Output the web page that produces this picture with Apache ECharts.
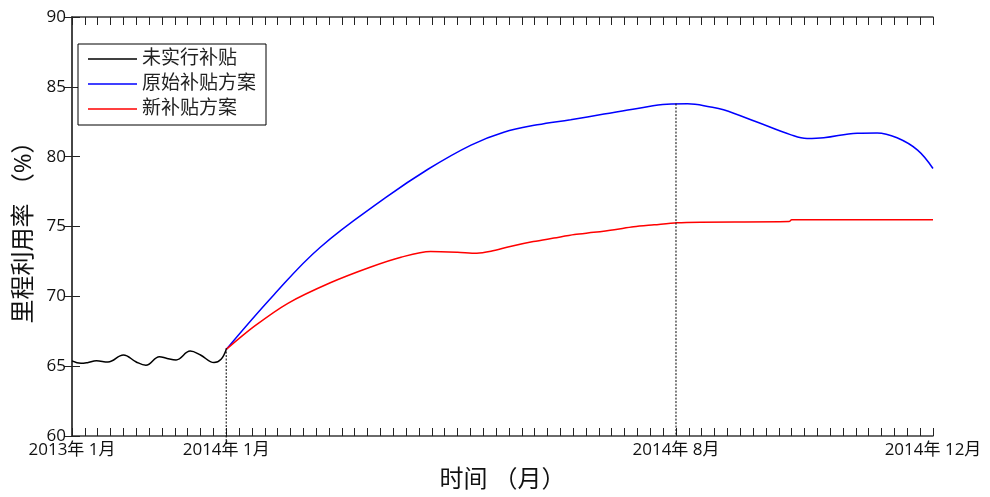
<!DOCTYPE html>
<html><head><meta charset="utf-8">
<script src="https://cdn.jsdelivr.net/npm/echarts@6/dist/echarts.min.js"></script>
<style>html,body{margin:0;padding:0;background:#fff}#c{width:990px;height:497px}</style>
</head><body><div id="c"></div>
<script>
// x axis is in tick units (0 = 2013年1月, 12 = 2014年1月, 47 = 2014年8月, 67 = 2014年12月)
const tickPos = [0, 12, 47, 67];
const tickLabels = ['2013年 1月', '2014年 1月', '2014年 8月', '2014年 12月'];
const xMax = 67;

const blackX = [0, 0.7, 1.2, 1.9, 2.8, 4.0, 5.0, 5.75, 6.8, 7.4, 8.1, 9.2, 10.0, 11.05, 11.6, 12];
const blackY = [65.38, 65.2, 65.25, 65.38, 65.3, 65.8, 65.3, 65.07, 65.68, 65.55, 65.45, 66.08, 65.8, 65.26, 65.5, 66.2];

const blueX = [12, 15.7, 19.3, 24.4, 27.7, 31.05, 33.6, 36.2, 38.8, 41.4, 44.0, 46.3, 47.9, 49.7, 50.7, 53.3, 55.9, 57.2, 58.5, 61.1, 62.65, 64.2, 65.8, 67];
const blueY = [66.2, 70.1, 73.5, 77.06, 79.1, 80.83, 81.75, 82.28, 82.65, 83.05, 83.45, 83.76, 83.78, 83.56, 83.36, 82.48, 81.58, 81.3, 81.35, 81.68, 81.7, 81.35, 80.47, 79.15];

const redX = [12, 14.2, 16.8, 20.1, 23.25, 25.6, 27.9, 30.0, 31.5, 32.6, 34.1, 35.9, 37.5, 39.1, 40.6, 42.2, 43.7, 45.3, 47.1, 48.9, 55.8, 56.0, 67];
const redY = [66.2, 67.86, 69.5, 70.97, 72.1, 72.8, 73.21, 73.16, 73.09, 73.23, 73.57, 73.92, 74.17, 74.42, 74.58, 74.77, 74.98, 75.12, 75.27, 75.31, 75.35, 75.48, 75.48];

const names = ['未实行补贴', '原始补贴方案', '新补贴方案'];
const dropX = [12, 47];
const dropTop = [66.3, 83.8];
const dropBottom = [59.4, 60];

const zip = (a, b) => a.map((v, i) => [v, b[i]]);
const allTicks = [];
for (let i = 0; i <= xMax; i++) allTicks.push(i);
const font = "'Open Sans','Noto Sans CJK SC',sans-serif";
const axisLine = {show: true, lineStyle: {color: '#3a3a3a', width: 1.5}};
const tick = {show: true, inside: true, length: 8, lineStyle: {color: '#222', width: 1}};
const xTick = Object.assign({customValues: allTicks}, tick);

const chart = echarts.init(document.getElementById('c'));
const series = [
  {name: names[0], type: 'line', data: zip(blackX, blackY), smooth: 0.4, showSymbol: false, symbol: 'none', lineStyle: {color: '#000', width: 1.5}, itemStyle: {color: '#000'}},
  {name: names[1], type: 'line', data: zip(blueX, blueY), smooth: 0.4, showSymbol: false, symbol: 'none', lineStyle: {color: '#0000ff', width: 1.5}, itemStyle: {color: '#0000ff'}},
  {name: names[2], type: 'line', data: zip(redX, redY), smooth: 0.3, showSymbol: false, symbol: 'none', lineStyle: {color: '#ff0000', width: 1.5}, itemStyle: {color: '#ff0000'}}
];
dropX.forEach((x, i) => {
  series.push({type: 'line', data: [[x, dropTop[i]], [x, dropBottom[i]]], clip: false, showSymbol: false, symbol: 'none', silent: true,
    lineStyle: {color: '#000', width: 1, type: [2, 1.5]}});
});

chart.setOption({
  animation: false,
  backgroundColor: '#fff',
  grid: {left: 72, right: 57, top: 17, bottom: 56, containLabel: false},
  legend: {
    data: names, orient: 'vertical', left: 78, top: 44, icon: 'rect',
    borderColor: '#000', borderWidth: 1, backgroundColor: '#fff',
    padding: [5, 10, 6, 10], itemWidth: 49, itemHeight: 1.5, itemGap: 5,
    textStyle: {fontFamily: font, fontSize: 19, color: '#222', lineHeight: 20}
  },
  xAxis: [
    {type: 'value', min: 0, max: xMax, position: 'bottom',
     axisLine: axisLine, axisTick: xTick, splitLine: {show: false},
     axisLabel: {show: true, customValues: tickPos, margin: 6, fontFamily: font, fontSize: 17, color: '#111',
       formatter: v => { const i = tickPos.indexOf(Math.round(v)); return i >= 0 ? tickLabels[i] : ''; }},
     name: '时间 （月）', nameLocation: 'middle', nameGap: 32,
     nameTextStyle: {fontFamily: font, fontSize: 24, color: '#111'}},
    {type: 'value', min: 0, max: xMax, position: 'top',
     axisLine: axisLine, axisTick: xTick, axisLabel: {show: false}, splitLine: {show: false}}
  ],
  yAxis: [
    {type: 'value', min: 60, max: 90, interval: 5, position: 'left',
     axisLine: axisLine, axisTick: tick, splitLine: {show: false},
     axisLabel: {margin: 6, fontFamily: font, fontSize: 17, color: '#111'},
     name: '里程利用率 （%）', nameLocation: 'middle', nameGap: 33, nameRotate: 90,
     nameTextStyle: {fontFamily: font, fontSize: 24, color: '#111'}},
    {type: 'value', min: 60, max: 90, interval: 5, position: 'right',
     axisLine: axisLine, axisTick: tick, axisLabel: {show: false}, splitLine: {show: false}}
  ],
  series: series
});
</script></body></html>
